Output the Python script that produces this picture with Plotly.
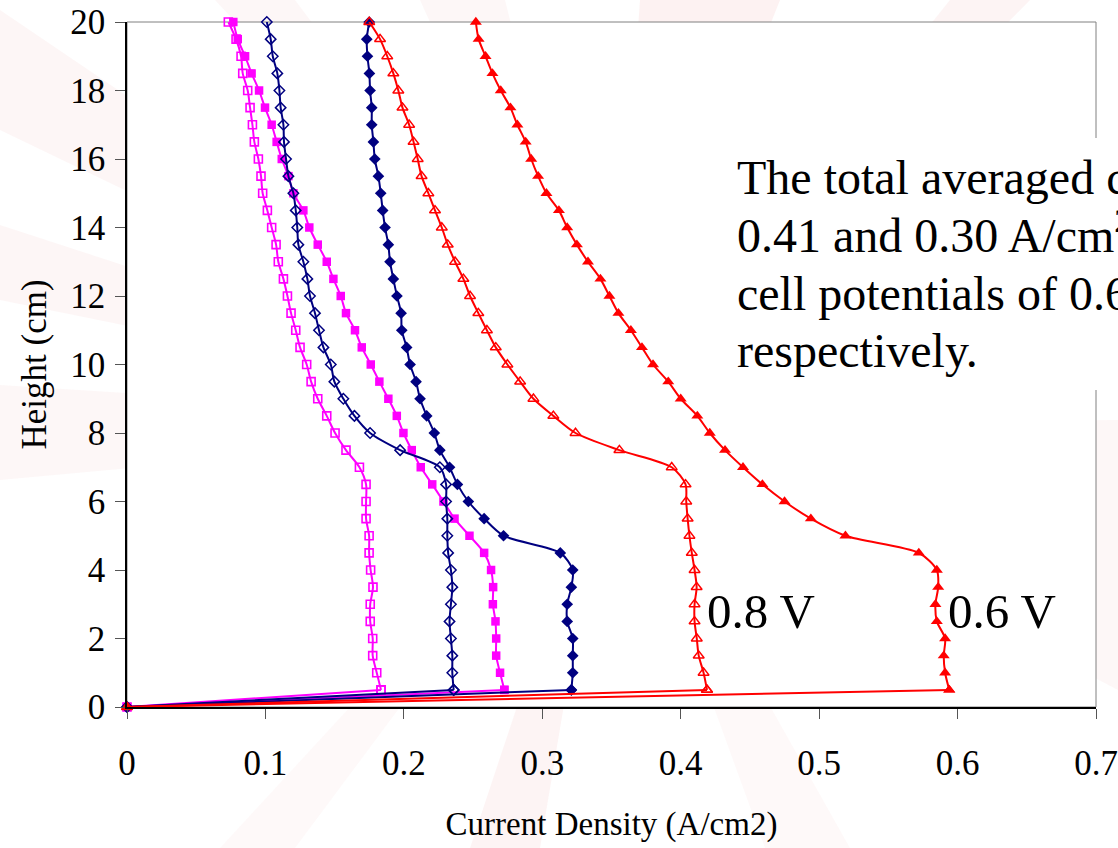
import plotly.graph_objects as go

# Height along the channel (cm); one sample every 0.5 cm
height_cm = [0, 0.5, 1.0, 1.5, 2.0, 2.5, 3.0, 3.5, 4.0, 4.5, 5.0, 5.5, 6.0, 6.5, 7.0,
             7.5, 8.0, 8.5, 9.0, 9.5, 10.0, 10.5, 11.0, 11.5, 12.0, 12.5, 13.0, 13.5,
             14.0, 14.5, 15.0, 15.5, 16.0, 16.5, 17.0, 17.5, 18.0, 18.5, 19.0, 19.5, 20.0]

# Local current density (A/cm2) at each height
magenta_open = [0, 0.1835, 0.1804, 0.1775, 0.1775, 0.1757, 0.1757, 0.1777, 0.1760, 0.1749,
                0.1749, 0.1727, 0.1727, 0.1727, 0.1679, 0.1582, 0.1503, 0.1443, 0.1378,
                0.1330, 0.1298, 0.1250, 0.1219, 0.1185, 0.1159, 0.1130, 0.1093, 0.1077,
                0.1045, 0.1014, 0.0980, 0.0968, 0.0949, 0.0920, 0.0906, 0.0889, 0.0872,
                0.0836, 0.0824, 0.0788, 0.0732]
magenta_filled = [0, 0.2726, 0.2695, 0.2667, 0.2667, 0.2662, 0.2643, 0.2645, 0.2630, 0.2580,
                  0.2474, 0.2366, 0.2286, 0.2205, 0.2122, 0.2057, 0.1997, 0.1949, 0.1888,
                  0.1823, 0.1761, 0.1696, 0.1647, 0.1582, 0.1544, 0.1491, 0.1443, 0.1378,
                  0.1317, 0.1274, 0.1202, 0.1166, 0.1118, 0.1081, 0.1045, 0.0997, 0.0954,
                  0.0900, 0.0853, 0.0800, 0.0768]
navy_open = [0, 0.2360, 0.2350, 0.2350, 0.2340, 0.2330, 0.2340, 0.2350, 0.2340, 0.2320,
             0.2314, 0.2314, 0.2305, 0.2305, 0.2260, 0.1973, 0.1756, 0.1643, 0.1563,
             0.1498, 0.1472, 0.1419, 0.1387, 0.1358, 0.1322, 0.1303, 0.1274, 0.1238,
             0.1230, 0.1219, 0.1202, 0.1166, 0.1149, 0.1134, 0.1130, 0.1110, 0.1101,
             0.1086, 0.1053, 0.1038, 0.1010]
navy_filled = [0, 0.3210, 0.3220, 0.3220, 0.3220, 0.3180, 0.3180, 0.3210, 0.3220, 0.3130,
               0.2720, 0.2580, 0.2466, 0.2387, 0.2330, 0.2260, 0.2220, 0.2165, 0.2117,
               0.2088, 0.2045, 0.2020, 0.1985, 0.1980, 0.1950, 0.1924, 0.1900, 0.1888,
               0.1864, 0.1847, 0.1833, 0.1816, 0.1790, 0.1780, 0.1768, 0.1768, 0.1756,
               0.1751, 0.1737, 0.1732, 0.1750]
red_open_08V = [0, 0.4190, 0.4165, 0.4130, 0.4116, 0.4100, 0.4100, 0.4115, 0.4100, 0.4080,
                0.4063, 0.4050, 0.4040, 0.4035, 0.3935, 0.3557, 0.3240, 0.3080, 0.2936,
                0.2840, 0.2748, 0.2664, 0.2600, 0.2538, 0.2478, 0.2430, 0.2370, 0.2317,
                0.2274, 0.2225, 0.2177, 0.2128, 0.2100, 0.2070, 0.2038, 0.1990, 0.1960,
                0.1924, 0.1880, 0.1828, 0.1750]
red_filled_06V = [0, 0.5940, 0.5910, 0.5900, 0.5910, 0.5850, 0.5840, 0.5860, 0.5850, 0.5720,
                  0.5190, 0.4940, 0.4750, 0.4590, 0.4450, 0.4320, 0.4210, 0.4120, 0.4000,
                  0.3910, 0.3800, 0.3720, 0.3640, 0.3550, 0.3485, 0.3420, 0.3330, 0.3250,
                  0.3180, 0.3120, 0.3030, 0.2970, 0.2920, 0.2880, 0.2820, 0.2770, 0.2700,
                  0.2640, 0.2590, 0.2540, 0.2520]

x_ticks = [0, 0.1, 0.2, 0.3, 0.4, 0.5, 0.6, 0.7]
y_ticks = [0, 2, 4, 6, 8, 10, 12, 14, 16, 18, 20]

note_lines = [
    "The total averaged current densities are",
    "0.41 and 0.30 A/cm<sup>2</sup> at the",
    "cell potentials of 0.6 and 0.8 V,",
    "respectively.",
]

MAGENTA = "#FF00FF"
NAVY = "#000080"
RED = "#FF0000"
SERIF = "Liberation Serif, Times New Roman, serif"

W, H = 1118, 848
M_L, M_R, M_T, M_B = 127, 22, 22, 141
PW, PH = W - M_L - M_R, H - M_T - M_B

series = [
    ("Series A, open", magenta_open, MAGENTA, "square-open", 8, 1.6),
    ("Series A, filled", magenta_filled, MAGENTA, "square", 8.5, 0),
    ("Series B, open", navy_open, NAVY, "diamond-open", 8, 1.5),
    ("Series B, filled", navy_filled, NAVY, "diamond", 9, 0),
    ("0.8 V", red_open_08V, RED, "triangle-up-open", 9.5, 1.5),
    ("0.6 V", red_filled_06V, RED, "triangle-up", 10.5, 0),
]

fig = go.Figure()
for name, xs, color, symbol, size, lw in series:
    mk = dict(symbol=symbol, size=size, color=color, line=dict(color=color, width=lw))
    # inlet segment: straight run from the origin to the first sample
    fig.add_trace(go.Scatter(
        x=xs[:2], y=height_cm[:2], name=name, mode="lines+markers",
        line=dict(color=color, width=2), marker=mk, cliponaxis=False,
        showlegend=False,
    ))
    # profile along the height, smoothed
    fig.add_trace(go.Scatter(
        x=xs[1:], y=height_cm[1:], name=name, mode="lines+markers",
        line=dict(color=color, width=2, shape="spline", smoothing=0.8),
        marker=mk, cliponaxis=False,
    ))


def px_to_paper(px, py):
    """Convert canvas pixel position to paper coordinates."""
    return (px - M_L) / PW, (H - M_B - py) / PH


# Faint pink rays of the slide background, radiating from behind the plot
centre = px_to_paper(611, 424)
rays = [
    ((215, 0), (295, 0), 0.05), ((420, 0), (505, 0), 0.05), ((640, 0), (780, 0), 0.08),
    ((950, 0), (1030, 0), 0.07), ((0, 10), (0, 130), 0.06), ((0, 225), (0, 300), 0.06),
    ((0, 385), (0, 480), 0.05), ((220, 848), (295, 848), 0.04), ((470, 848), (540, 848), 0.07),
    ((765, 848), (850, 848), 0.04), ((1118, 420), (1118, 690), 0.05),
]
shapes = []
for (ax_, ay_), (bx_, by_), alpha in rays:
    p1 = px_to_paper(ax_, ay_)
    p2 = px_to_paper(bx_, by_)
    path = (f"M {centre[0]:.4f},{centre[1]:.4f} L {p1[0]:.4f},{p1[1]:.4f} "
            f"L {p2[0]:.4f},{p2[1]:.4f} Z")
    shapes.append(dict(type="path", xref="paper", yref="paper", path=path,
                       fillcolor=f"rgba(225,95,95,{alpha})", line=dict(width=0),
                       layer="below"))
# White plot area with a grey frame
shapes.append(dict(type="rect", xref="paper", yref="paper", x0=0, y0=0, x1=1, y1=1,
                   fillcolor="white", line=dict(color="#808080", width=1), layer="below"))
# White text box holding the note (covers the right frame behind it)
bx0, by0 = px_to_paper(725, 390)
bx1, by1 = px_to_paper(W + 5, 138)
shapes.append(dict(type="rect", xref="paper", yref="paper", x0=bx0, y0=by0, x1=bx1, y1=by1,
                   fillcolor="white", line=dict(width=0), layer="above"))

annotations = [
    dict(x=0.4175, y=2.8, xref="x", yref="y", text="0.8 V", showarrow=False,
         xanchor="left", yanchor="middle", font=dict(family=SERIF, size=49, color="black")),
    dict(x=0.5915, y=2.8, xref="x", yref="y", text="0.6 V", showarrow=False,
         xanchor="left", yanchor="middle", font=dict(family=SERIF, size=49, color="black")),
]
note_size = 48
for i, line in enumerate(note_lines):
    baseline = 195 + 57.7 * i
    # anchor each line by the bottom of its box so a superscript does not shift it
    nx, ny = px_to_paper(736, baseline + 0.216 * note_size)
    annotations.append(dict(
        x=nx, y=ny, xref="paper", yref="paper", text=line, showarrow=False,
        xanchor="left", yanchor="bottom", align="left", borderpad=0,
        font=dict(family=SERIF, size=note_size, color="black"),
    ))

fig.update_layout(
    width=W, height=H, autosize=False,
    margin=dict(l=M_L, r=M_R, t=M_T, b=M_B, pad=0),
    paper_bgcolor="white", plot_bgcolor="white",
    showlegend=False,
    shapes=shapes, annotations=annotations,
    font=dict(family=SERIF, color="black"),
)
fig.update_xaxes(
    range=[0, 0.7], tickvals=x_ticks, ticktext=[f"{v:g}" for v in x_ticks],
    showgrid=False, zeroline=False, showline=True, linecolor="black", linewidth=1.5,
    ticks="outside", ticklen=10, tickcolor="#555555", tickwidth=1,
    tickfont=dict(family=SERIF, size=35, color="black"), ticklabelstandoff=14,
    title=dict(text="Current Density (A/cm2)", font=dict(family=SERIF, size=33),
               standoff=30),
    automargin=False,
)
fig.update_yaxes(
    range=[0, 20], tickvals=y_ticks, showgrid=False, zeroline=False,
    showline=True, linecolor="black", linewidth=1.5,
    ticks="outside", ticklen=10, tickcolor="#555555", tickwidth=1,
    tickfont=dict(family=SERIF, size=35, color="black"), ticklabelstandoff=3,
    title=dict(text="Height (cm)", font=dict(family=SERIF, size=35), standoff=13),
    automargin=False,
)

fig.write_html("out.html")
